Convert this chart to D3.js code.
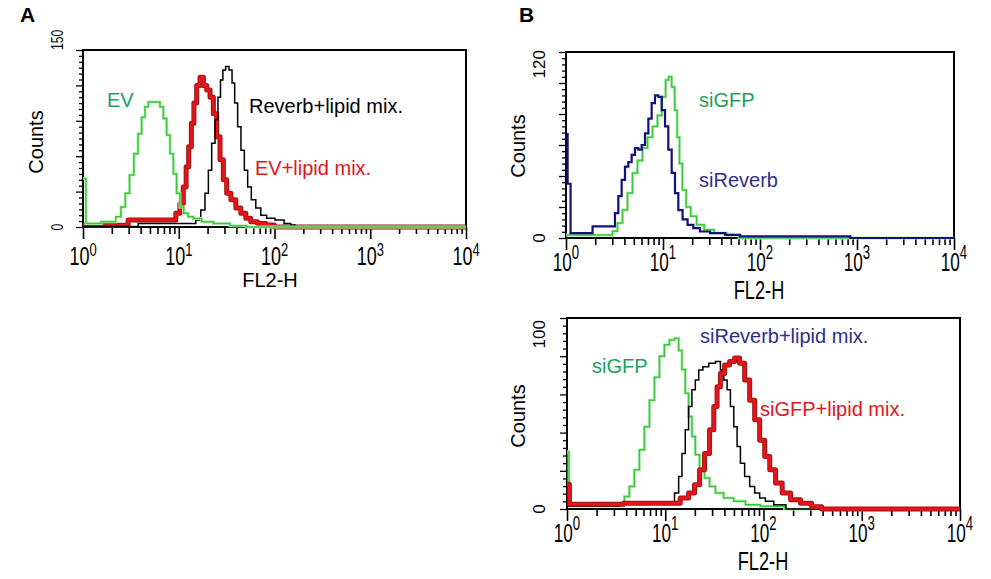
<!DOCTYPE html>
<html><head><meta charset="utf-8">
<script src="https://cdn.jsdelivr.net/npm/d3@7"></script>
<style>
body{margin:0;background:#fff}
svg{display:block}
text{font-family:"Liberation Sans",Arial,Helvetica,sans-serif}
</style>
</head><body>
<svg id="chart" width="991" height="579"></svg>
<script>
// ---------- data (FL2-H value, counts) ----------
const decadeValues = [1, 10, 100, 1000, 10000];
const decadeExponents = ["0", "1", "2", "3", "4"];

// Panel A
const aEvFL2 = [1, 1.15, 2.07, 2.34, 2.64, 2.90, 3.23, 3.58, 3.94, 4.26, 4.63, 5.01, 6.11, 6.64, 7.18, 7.78, 8.44, 9.14, 9.89, 10.7, 11.9, 13.1, 15.4, 19.6, 27, 43.6, 60, 10000];
const aEvCounts = [41, 3, 4.5, 8.7, 17, 28.5, 44, 62, 79, 93, 102, 106, 106, 102, 92, 78, 62, 45, 28.5, 17, 11.6, 8.7, 7.3, 4.5, 3, 1, 0, 0];
const aEvLipidFL2 = [1, 8.77, 9.89, 10.7, 11.6, 12.3, 13.1, 14.0, 14.8, 16.0, 17.4, 18.8, 20.4, 22.1, 23.9, 25.9, 28.1, 30.4, 33.0, 37.2, 41.9, 47.3, 53.2, 60.1, 73.5, 89.8, 110, 10000];
const aEvLipidCounts = [1.5, 5.9, 11.6, 20, 34, 51, 68, 88, 105, 120, 127, 120, 116, 110, 96, 76.5, 57, 40, 28.5, 23, 16, 11.6, 7.4, 4.5, 3, 1.7, 0, 0];
const aReverbLipidFL2 = [1, 14.2, 16.0, 18.0, 19.6, 21.2, 23.0, 24.9, 26.5, 28.1, 29.7, 32.1, 34.9, 37.2, 39.6, 42.9, 46.5, 50.4, 54.6, 60.1, 67.7, 76.4, 89.8, 114, 139, 157, 170, 10000];
const aReverbLipidCounts = [0.5, 3, 6, 14.4, 28.5, 48, 71, 91, 110, 124.6, 133, 136, 133, 122, 105, 85, 65, 48, 34, 23, 16, 10, 7.4, 6, 3, 1.7, 0, 0];

// Panel B (top)
const bSiGfpFL2 = [1, 2.84, 3.20, 3.60, 4.06, 4.57, 5.14, 5.79, 6.52, 7.35, 8.27, 9.31, 10.2, 11.1, 11.8, 12.8, 13.6, 14.4, 15.2, 16.5, 18.2, 20.5, 24.1, 29.3, 38.7, 53.1, 70, 10000];
const bSiGfpCounts = [2, 2, 4.3, 9.6, 18, 29, 42, 50, 58, 65, 72, 79, 91, 102, 104, 97.5, 82.5, 65, 48, 31, 20, 14, 8.5, 5.3, 3.2, 2, 0, 0];
const bSiReverbFL2 = [1, 1.08, 1.15, 3.07, 3.33, 3.60, 3.90, 4.22, 4.57, 4.94, 5.35, 5.79, 6.26, 6.79, 7.35, 7.94, 8.61, 9.31, 10.1, 10.9, 11.8, 12.8, 13.8, 15.0, 16.9, 19.0, 22.2, 26.0, 35.8, 53.1, 72.9, 10000];
const bSiReverbCounts = [67, 35, 3.2, 7.5, 16, 27, 37.5, 46, 49, 53.6, 58, 57, 60, 67.5, 77, 87, 92, 91, 82.5, 72, 57, 42, 29, 18, 12, 8.5, 6.4, 4.2, 3.2, 2, 1, 0];

// Panel B (bottom)
const cSiGfpFL2 = [1, 1.1, 3.62, 4.07, 4.57, 5.14, 5.78, 6.51, 7.32, 8.23, 9.25, 10.4, 11.7, 13.2, 14.2, 15.4, 16.6, 18.0, 19.4, 21.1, 23.7, 26.6, 30.0, 35.0, 44.3, 56.0, 76.7, 113, 239, 10000];
const cSiGfpCounts = [30, 2.2, 3, 6.6, 11.8, 20.5, 31, 43, 57, 69, 80, 86, 88.5, 89.4, 83, 73, 60.6, 48.4, 38, 28.4, 20.5, 16.2, 11.8, 8.4, 5.7, 4, 2.2, 1.4, 0, 0];
const cSiReverbLipidFL2 = [1, 11.7, 13.2, 14.2, 15.4, 16.6, 18.0, 19.4, 21.1, 22.8, 25.6, 30.0, 35.0, 37.9, 41.0, 44.3, 47.9, 51.8, 56.0, 60.6, 68.2, 76.7, 86.2, 97, 113, 143, 200, 10000];
const cSiReverbLipidCounts = [1.4, 3, 8.4, 17, 29, 41.5, 53.6, 62.4, 67.6, 72.8, 74.5, 76.3, 77.2, 72.8, 67.6, 62.4, 53.6, 43, 32.7, 24, 17, 11.8, 8.4, 5.7, 4, 2.2, 0, 0];
const cSiGfpLipidFL2 = [1, 1.12, 12.6, 16.0, 18.7, 21.1, 23.7, 26.6, 30.0, 32.4, 35.0, 37.9, 42.6, 47.9, 53.9, 60.6, 68.2, 76.7, 86.2, 97, 109, 123, 143, 168, 212, 268, 356, 429, 10000];
const cSiGfpLipidCounts = [13, 2.5, 3, 5.7, 8.4, 12.7, 20.5, 29, 41.5, 53.6, 64, 71, 75.4, 77.2, 79, 76.3, 67.6, 57, 46.7, 36, 27.5, 20.5, 13.6, 8.4, 4.9, 3, 1.2, 0, 0];

// ---------- styles ----------
const GREEN_LINE = "#3cc83c", GREEN_TEXT = "#1f9e5c";
const RED = "#e5141b", RED_DARK = "#9c1414";
const NAVY = "#10107e", NAVY_TEXT = "#2e2e8c";

const svg = d3.select("#chart");

svg.append("text").attr("x", 20).attr("y", 22).attr("font-size", 21).attr("font-weight", "bold").text("A");
svg.append("text").attr("x", 519).attr("y", 22).attr("font-size", 21).attr("font-weight", "bold").text("B");

const panels = [
  {
    left: 83, right: 466, top: 50, bottom: 227, yMax: 150, yMajor: 30, yMinor: 5,
    yLab: {x: 63, size: 17, sx: 0.72, maxY: 50, maxAnchor: "start"},
    counts: {x: 43, y: 142},
    tick: {size: 25, sup: 18, sx: 0.72, base: 265, dy: -9},
    fl2: {x: 270, y: 287, size: 20, sx: 1},
    series: [
      {fl2: aEvLipidFL2, counts: aEvLipidCounts, kind: "red"},
      {fl2: aReverbLipidFL2, counts: aReverbLipidCounts, kind: "black"},
      {fl2: aEvFL2, counts: aEvCounts, kind: "green"}
    ],
    labels: [
      {t: "EV", x: 107, y: 107, c: GREEN_TEXT},
      {t: "Reverb+lipid mix.", x: 249, y: 113, c: "#000"},
      {t: "EV+lipid mix.", x: 255, y: 175, c: RED}
    ]
  },
  {
    left: 566, right: 954, top: 52, bottom: 238, yMax: 120, yMajor: 20, yMinor: 4,
    yLab: {x: 545, size: 17, sx: 1, maxY: 50, maxAnchor: "end"},
    counts: {x: 525, y: 146},
    tick: {size: 26, sup: 20, sx: 0.66, base: 271, dy: -12},
    fl2: {x: 759, y: 299, size: 26, sx: 0.7},
    series: [
      {fl2: bSiGfpFL2, counts: bSiGfpCounts, kind: "green"},
      {fl2: bSiReverbFL2, counts: bSiReverbCounts, kind: "navy"}
    ],
    labels: [
      {t: "siGFP", x: 699, y: 107, c: GREEN_TEXT},
      {t: "siReverb", x: 699, y: 187, c: NAVY_TEXT}
    ]
  },
  {
    left: 567, right: 960, top: 318, bottom: 509, yMax: 100, yMajor: 20, yMinor: 4,
    yLab: {x: 545, size: 17, sx: 1, maxY: 320, maxAnchor: "end"},
    counts: {x: 525, y: 416},
    tick: {size: 26, sup: 20, sx: 0.66, base: 542, dy: -12},
    fl2: {x: 763, y: 570, size: 26, sx: 0.7},
    series: [
      {fl2: cSiGfpFL2, counts: cSiGfpCounts, kind: "green"},
      {fl2: cSiReverbLipidFL2, counts: cSiReverbLipidCounts, kind: "black"},
      {fl2: cSiGfpLipidFL2, counts: cSiGfpLipidCounts, kind: "red"}
    ],
    labels: [
      {t: "siGFP", x: 592, y: 373, c: GREEN_TEXT},
      {t: "siReverb+lipid mix.", x: 700, y: 343, c: NAVY_TEXT},
      {t: "siGFP+lipid mix.", x: 760, y: 416, c: RED}
    ]
  }
];

panels.forEach(drawPanel);

function drawPanel(p) {
  const g = svg.append("g");
  const x = d3.scaleLog().domain([1, 10000]).range([p.left, p.right]);
  const y = d3.scaleLinear().domain([0, p.yMax]).range([p.bottom, p.top]);

  // x ticks (log minors + decades)
  const gx = g.append("g").attr("transform", `translate(0,${p.bottom})`)
    .call(d3.axisBottom(x).tickValues(x.ticks()).tickSize(7).tickSizeOuter(0).tickFormat(""));
  gx.select(".domain").remove();
  gx.selectAll(".tick line").attr("stroke", "#000").attr("stroke-width", 1.6)
    .attr("y2", d => decadeValues.includes(d) ? 12 : 7);

  // y ticks
  const yTicks = d3.range(0, p.yMax + 0.001, p.yMinor);
  const gy = g.append("g").attr("transform", `translate(${p.left},0)`)
    .call(d3.axisLeft(y).tickValues(yTicks).tickSize(3).tickSizeOuter(0).tickFormat(""));
  gy.select(".domain").remove();
  gy.selectAll(".tick line").attr("stroke", "#000").attr("stroke-width", 1.3)
    .attr("x2", d => (Math.round(d) % p.yMajor === 0) ? -7 : -4);

  // frame
  g.append("rect").attr("x", p.left).attr("y", p.top)
    .attr("width", p.right - p.left).attr("height", p.bottom - p.top)
    .attr("fill", "none").attr("stroke", "#000").attr("stroke-width", 2);

  // curves
  const line = d3.line().x(d => x(d[0])).y(d => y(d[1])).curve(d3.curveStep);
  p.series.forEach(s => {
    const pts = d3.zip(s.fl2, s.counts);
    if (s.kind === "red") {
      g.append("path").attr("d", line(pts)).attr("fill", "none")
        .attr("stroke", RED_DARK).attr("stroke-width", 5).attr("stroke-linejoin", "round");
      g.append("path").attr("d", line(pts)).attr("fill", "none")
        .attr("stroke", RED).attr("stroke-width", 3).attr("stroke-linejoin", "round");
    } else if (s.kind === "green") {
      g.append("path").attr("d", line(pts)).attr("fill", "none")
        .attr("stroke", "#b8efb8").attr("stroke-width", 3);
      g.append("path").attr("d", line(pts)).attr("fill", "none")
        .attr("stroke", GREEN_LINE).attr("stroke-width", 1.5);
    } else if (s.kind === "navy") {
      g.append("path").attr("d", line(pts)).attr("fill", "none")
        .attr("stroke", NAVY).attr("stroke-width", 2.2);
    } else {
      g.append("path").attr("d", line(pts)).attr("fill", "none")
        .attr("stroke", "#000").attr("stroke-width", 1.5);
    }
  });

  // x tick labels 10^n
  decadeValues.forEach((v, i) => {
    const t = g.append("text")
      .attr("transform", `translate(${x(v)},${p.tick.base}) scale(${p.tick.sx},1)`)
      .attr("text-anchor", "middle").attr("font-size", p.tick.size).attr("fill", "#000");
    t.append("tspan").text("10");
    t.append("tspan").attr("dy", p.tick.dy).attr("font-size", p.tick.sup).text(decadeExponents[i]);
  });

  // x axis title
  g.append("text")
    .attr("transform", `translate(${p.fl2.x},${p.fl2.y}) scale(${p.fl2.sx},1)`)
    .attr("text-anchor", "middle").attr("font-size", p.fl2.size).text("FL2-H");

  // y labels (rotated)
  g.append("text")
    .attr("transform", `translate(${p.yLab.x},${p.bottom}) rotate(-90) scale(${p.yLab.sx},1)`)
    .attr("text-anchor", "middle").attr("font-size", p.yLab.size).text("0");
  g.append("text")
    .attr("transform", `translate(${p.yLab.x},${p.yLab.maxY}) rotate(-90) scale(${p.yLab.sx},1)`)
    .attr("text-anchor", p.yLab.maxAnchor).attr("font-size", p.yLab.size).text(String(p.yMax));
  g.append("text")
    .attr("transform", `translate(${p.counts.x},${p.counts.y}) rotate(-90)`)
    .attr("text-anchor", "middle").attr("font-size", 20).text("Counts");

  // series labels
  p.labels.forEach(l => {
    g.append("text").attr("x", l.x).attr("y", l.y).attr("font-size", 20)
      .attr("fill", l.c).text(l.t);
  });
}
</script>
</body></html>
